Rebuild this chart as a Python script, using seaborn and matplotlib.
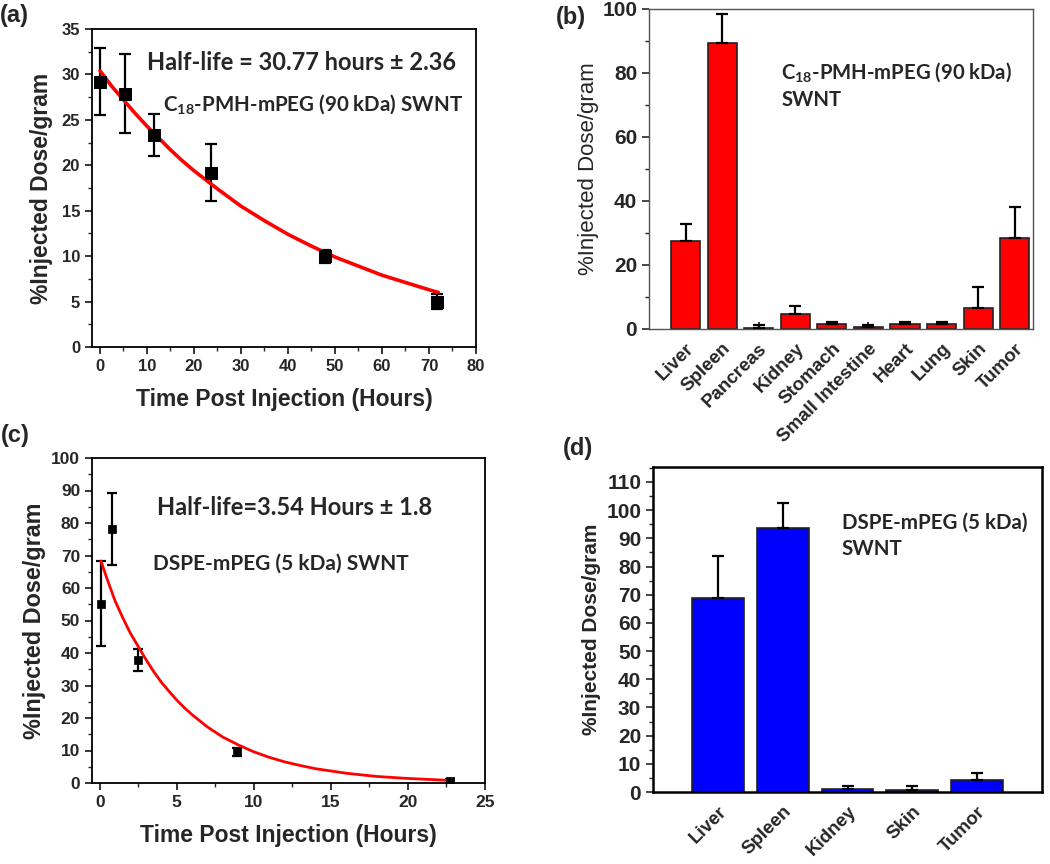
import matplotlib
matplotlib.use("Agg")
import matplotlib.pyplot as plt
from matplotlib.ticker import MultipleLocator
import seaborn as sns
import numpy as np

# ---------------- data ----------------
# (a) C18-PMH-mPEG (90 kDa) SWNT blood circulation
a_time = [0.0, 5.3, 11.5, 23.7, 47.8, 71.7]
a_val = [29.2, 27.9, 23.3, 19.2, 10.0, 5.0]
a_err = [3.7, 4.4, 2.3, 3.1, 0.7, 0.8]
a_fit_x = [0, 2.5, 5, 7.5, 10, 12.5, 15, 17.5, 20, 25, 30, 35, 40, 45, 50, 55, 60, 65, 70, 72]
a_fit_y = [30.4, 28.7, 27.2, 25.7, 24.3, 23.0, 21.7, 20.5, 19.4, 17.4, 15.5, 13.9, 12.4,
           11.1, 9.9, 8.9, 7.9, 7.1, 6.3, 6.0]

# (b) C18-PMH-mPEG biodistribution
b_organs = ["Liver", "Spleen", "Pancreas", "Kidney", "Stomach", "Small Intestine",
            "Heart", "Lung", "Skin", "Tumor"]
b_val = [27.5, 89.4, 0.3, 4.8, 1.5, 0.6, 1.7, 1.5, 6.5, 28.4]
b_err = [5.2, 8.9, 0.9, 2.3, 0.8, 0.8, 0.4, 0.6, 6.5, 9.6]

# (c) DSPE-mPEG (5 kDa) SWNT blood circulation
c_time = [0.08, 0.78, 2.48, 8.9, 22.7]
c_val = [55.2, 78.2, 37.9, 9.6, 0.6]
c_err = [13.1, 11.1, 3.3, 1.3, 0.5]
c_fit_x = [0.08, 0.5, 1, 1.5, 2, 2.5, 3, 3.5, 4, 4.5, 5, 5.5, 6, 7, 8, 9, 10, 11, 12,
           13, 14, 16, 18, 20, 22.7]
c_fit_y = [68.3, 62.5, 56.0, 50.8, 46.0, 42.0, 38.0, 34.3, 31.0, 28.2, 25.5, 23.1, 21.0,
           17.2, 14.1, 11.7, 9.6, 7.9, 6.5, 5.4, 4.4, 3.0, 2.0, 1.4, 0.8]

# (d) DSPE-mPEG biodistribution
d_organs = ["Liver", "Spleen", "Kidney", "Skin", "Tumor"]
d_val = [68.9, 93.5, 1.1, 0.8, 4.1]
d_err = [15.0, 8.9, 0.9, 1.2, 2.8]

# ---------------- style ----------------
sns.set_style("ticks")
plt.rcParams["font.family"] = ["Liberation Sans", "DejaVu Sans"]
plt.rcParams["font.weight"] = "bold"
plt.rcParams["mathtext.fontset"] = "custom"
plt.rcParams["mathtext.rm"] = "Lato:bold"
plt.rcParams["mathtext.default"] = "rm"

fig = plt.figure(figsize=(10.5, 8.64), dpi=100)
W, H = 1050, 864


def add_ax(l, t, r, b):
    return fig.add_axes([l / W, 1 - b / H, (r - l) / W, (b - t) / H])


ax_a = add_ax(92, 29, 476, 347)
ax_b = add_ax(649, 9, 1033, 329)
ax_c = add_ax(92, 458, 485, 783)
ax_d = add_ax(653, 467, 1042, 792)

ann_font = ["Lato", "DejaVu Sans"]


def style_line_axes(ax, ticksize):
    for s in ax.spines.values():
        s.set_linewidth(1.3)
        s.set_color("black")
    ax.tick_params(axis="both", which="major", direction="out", length=5, width=1.3,
                   labelsize=ticksize, top=False, right=False)
    ax.tick_params(axis="both", which="minor", direction="out", length=3, width=1.0,
                   top=False, right=False)


# ---------- (a) ----------
ax = ax_a
sns.lineplot(x=a_fit_x, y=a_fit_y, ax=ax, color="#ff0000", linewidth=2.6, zorder=3)
ax.errorbar(a_time, a_val, yerr=a_err, fmt="none", ecolor="black", elinewidth=1.6,
            capsize=4, capthick=1.6, zorder=2)
sns.scatterplot(x=a_time, y=a_val, ax=ax, marker="s", s=75, color="black",
                edgecolor="black", zorder=4)
ax.set_xlim(-1.7, 80)
ax.set_ylim(0, 35)
ax.xaxis.set_major_locator(MultipleLocator(10))
ax.xaxis.set_minor_locator(MultipleLocator(5))
ax.yaxis.set_major_locator(MultipleLocator(5))
ax.yaxis.set_minor_locator(MultipleLocator(2.5))
style_line_axes(ax, 12)
ax.set_xlabel("Time Post Injection (Hours)", fontsize=16.5, fontweight="bold", labelpad=10)
ax.set_ylabel("%Injected Dose/gram", fontsize=16.5, fontweight="bold", labelpad=6)
ax.text(0.545, 0.895, "Half-life = 30.77 hours ± 2.36", transform=ax.transAxes,
        ha="center", va="center", fontsize=17, fontweight="bold", family=ann_font)
ax.text(0.575, 0.765, "C$_{18}$-PMH-mPEG (90 kDa) SWNT", transform=ax.transAxes,
        ha="center", va="center", fontsize=14.8, fontweight="bold", family=ann_font)

# ---------- (c) ----------
ax = ax_c
sns.lineplot(x=c_fit_x, y=c_fit_y, ax=ax, color="#ff0000", linewidth=2.0, zorder=3)
ax.errorbar(c_time, c_val, yerr=c_err, fmt="none", ecolor="black", elinewidth=1.6,
            capsize=3.5, capthick=1.6, zorder=2)
sns.scatterplot(x=c_time, y=c_val, ax=ax, marker="s", s=40, color="black",
                edgecolor="black", zorder=4)
ax.set_xlim(-0.5, 25)
ax.set_ylim(0, 100)
ax.xaxis.set_major_locator(MultipleLocator(5))
ax.xaxis.set_minor_locator(MultipleLocator(2.5))
ax.yaxis.set_major_locator(MultipleLocator(10))
ax.yaxis.set_minor_locator(MultipleLocator(5))
style_line_axes(ax, 12.5)
ax.set_xlabel("Time Post Injection (Hours)", fontsize=16.5, fontweight="bold", labelpad=10)
ax.set_ylabel("%Injected Dose/gram", fontsize=16.8, fontweight="bold", labelpad=4)
ax.text(0.515, 0.848, "Half-life=3.54 Hours ± 1.8", transform=ax.transAxes,
        ha="center", va="center", fontsize=17, fontweight="bold", family=ann_font)
ax.text(0.48, 0.675, "DSPE-mPEG (5 kDa) SWNT", transform=ax.transAxes,
        ha="center", va="center", fontsize=15, fontweight="bold", family=ann_font)


def bar_panel(ax, organs, vals, errs, color, ylim, major, minor, xlim, spine_col,
              spine_w, ticksize, ylab_weight, ylab_size, ylab_pad):
    sns.barplot(x=organs, y=vals, ax=ax, color=color, saturation=1, width=0.8,
                edgecolor="#222222", linewidth=1.2, errorbar=None, zorder=2)
    ax.errorbar(np.arange(len(organs)), vals, yerr=[np.zeros(len(errs)), errs],
                fmt="none", ecolor="black", elinewidth=1.6, capsize=4, capthick=1.6,
                zorder=3)
    ax.set_xlim(*xlim)
    ax.set_ylim(*ylim)
    ax.yaxis.set_major_locator(MultipleLocator(major))
    ax.yaxis.set_minor_locator(MultipleLocator(minor))
    for s in ax.spines.values():
        s.set_linewidth(spine_w)
        s.set_color(spine_col)
    ax.tick_params(axis="y", which="major", direction="out", length=5, width=1.2,
                   labelsize=ticksize, right=False)
    ax.tick_params(axis="y", which="minor", direction="out", length=3, width=1.0,
                   right=False)
    ax.tick_params(axis="x", which="major", direction="in", length=5, width=1.3,
                   labelsize=13.5, top=False, pad=8)
    ax.set_xticks(np.arange(len(organs)))
    ax.set_xticklabels(organs, rotation=45, ha="right", rotation_mode="anchor",
                       fontweight="bold")
    ax.set_xlabel("")
    ax.set_ylabel("%Injected Dose/gram", fontsize=ylab_size, fontweight=ylab_weight,
                  labelpad=ylab_pad)


# ---------- (b) ----------
bar_panel(ax_b, b_organs, b_val, b_err, "#ff0000", (0, 100), 20, 10, (-1, 9.5),
          "#555555", 1.0, 15, "normal", 16, 2)
ax_b.text(0.345, 0.84, "C$_{18}$-PMH-mPEG (90 kDa)\nSWNT", transform=ax_b.transAxes,
          ha="left", va="top", fontsize=14.6, fontweight="bold", family=ann_font,
          linespacing=1.4)

# ---------- (d) ----------
bar_panel(ax_d, d_organs, d_val, d_err, "#0000ff", (0, 115.3), 10, 5, (-1, 5),
          "black", 1.8, 15, "bold", 15, 4)
ax_d.text(0.485, 0.86, "DSPE-mPEG (5 kDa)\nSWNT", transform=ax_d.transAxes,
          ha="left", va="top", fontsize=14.8, fontweight="bold", family=ann_font,
          linespacing=1.4)

# ---------- panel letters ----------
for lbl, x, y in [("(a)", 0, 4), ("(b)", 556, 6), ("(c)", 1, 424), ("(d)", 563, 437)]:
    fig.text(x / W, 1 - y / H, lbl, ha="left", va="top", fontsize=17, fontweight="bold")

fig.savefig("out.png", dpi=100)
